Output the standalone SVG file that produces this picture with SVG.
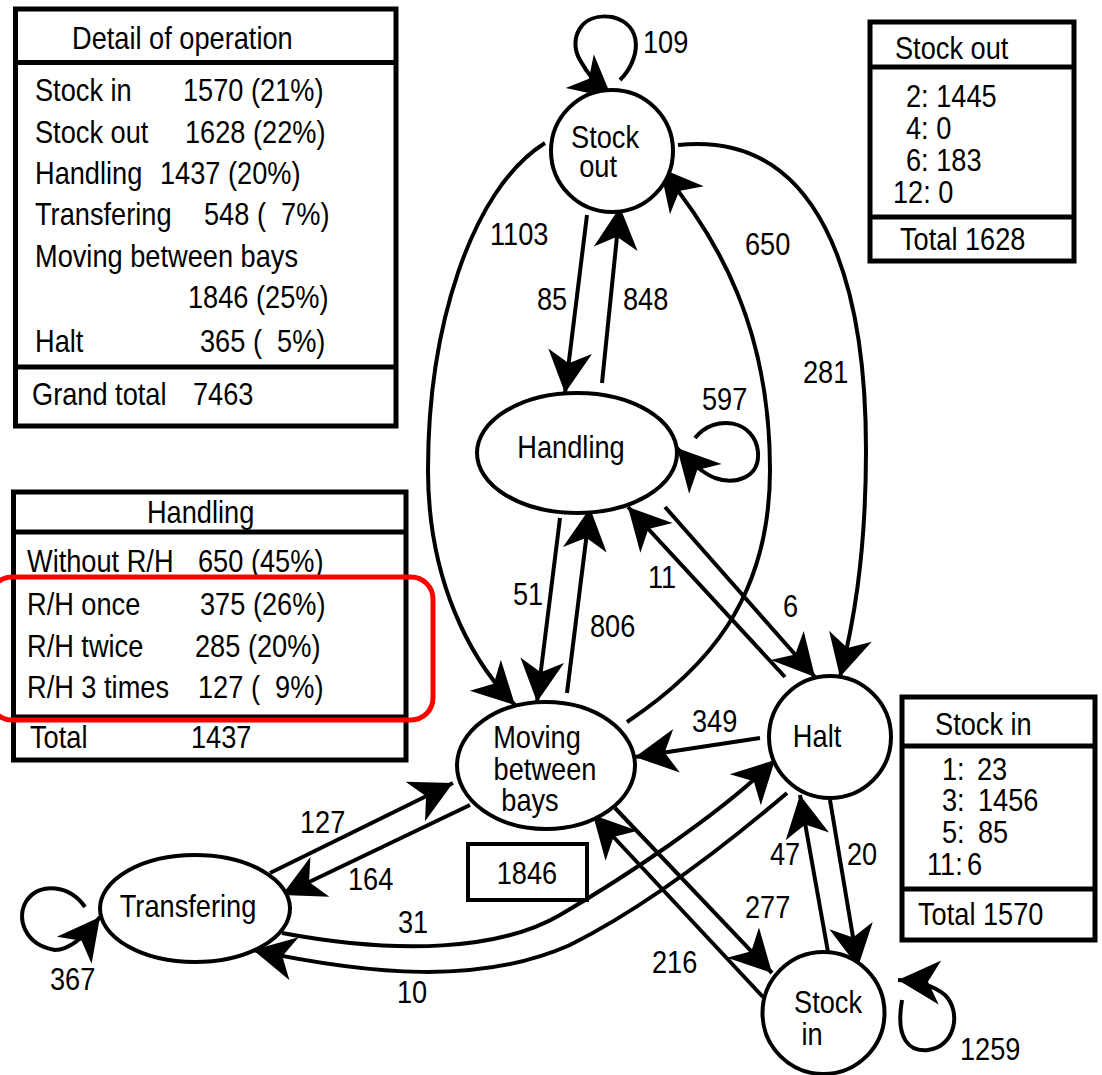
<svg xmlns="http://www.w3.org/2000/svg" width="1102" height="1075" viewBox="0 0 1102 1075">
<style>
text{font-family:"Liberation Sans",Arial,sans-serif;font-size:32px;fill:#000;transform:scaleX(0.85);transform-box:fill-box;transform-origin:0 50%}
text.mid{text-anchor:middle;transform-origin:50% 50%}
.node{fill:#fff;stroke:#000;stroke-width:4}
.box{fill:#fff;stroke:#000;stroke-width:5}
.div{stroke:#000;stroke-width:5}
.edge{fill:none;stroke:#000;stroke-width:4;marker-end:url(#ah)}
</style>
<defs>
<marker id="ah" markerUnits="userSpaceOnUse" markerWidth="48" markerHeight="50" viewBox="-45 -25 48 50" refX="0" refY="0" orient="auto">
<path d="M0,0 L-42,-22 L-30,0 L-42,22 Z" fill="#000"/>
</marker>
</defs>
<rect width="1102" height="1075" fill="#fff"/>

<g id="table-detail">
<rect class="box" x="15.5" y="9" width="380.5" height="417"/>
<line class="div" x1="15.5" y1="62.5" x2="396" y2="62.5"/>
<line class="div" x1="15.5" y1="367" x2="396" y2="367"/>
<text x="72" y="49">Detail of operation</text>
<text x="35" y="101">Stock in</text><text x="183" y="101">1570 (21%)</text>
<text x="35" y="143">Stock out</text><text x="185" y="143">1628 (22%)</text>
<text x="35" y="184">Handling</text><text x="160" y="184">1437 (20%)</text>
<text x="35" y="225">Transfering</text><text x="204" y="225" xml:space="preserve">548 (  7%)</text>
<text x="35" y="267">Moving between bays</text>
<text x="188" y="308">1846 (25%)</text>
<text x="35" y="352">Halt</text><text x="200" y="352" xml:space="preserve">365 (  5%)</text>
<text x="32" y="405">Grand total</text><text x="193" y="405">7463</text>
</g>

<g id="table-handling">
<rect class="box" x="13.5" y="492" width="392.5" height="268"/>
<line class="div" x1="13.5" y1="532" x2="406" y2="532"/>
<line class="div" x1="13.5" y1="717" x2="406" y2="717"/>
<text x="147" y="523">Handling</text>
<text x="27" y="572">Without R/H</text><text x="198" y="572">650 (45%)</text>
<text x="27" y="615">R/H once</text><text x="200" y="615">375 (26%)</text>
<text x="27" y="657">R/H twice</text><text x="195" y="657">285 (20%)</text>
<text x="27" y="698">R/H 3 times</text><text x="198" y="698" xml:space="preserve">127 (  9%)</text>
<text x="30" y="748">Total</text><text x="191" y="748">1437</text>
</g>

<g id="highlight">
<rect x="-10" y="577" width="443" height="143" rx="22" ry="22" fill="none" stroke="#ff0000" stroke-width="5"/>
</g>

<g id="table-stockout">
<rect class="box" x="870" y="22" width="204" height="239"/>
<line class="div" x1="870" y1="67" x2="1074" y2="67"/>
<line class="div" x1="870" y1="217" x2="1074" y2="217"/>
<text x="895" y="59">Stock out</text>
<text x="906" y="107">2: 1445</text>
<text x="906" y="139">4: 0</text>
<text x="906" y="171">6: 183</text>
<text x="893" y="203">12: 0</text>
<text x="900" y="250">Total 1628</text>
</g>

<g id="table-stockin">
<rect class="box" x="902" y="697" width="193" height="243"/>
<line class="div" x1="902" y1="746" x2="1095" y2="746"/>
<line class="div" x1="902" y1="889" x2="1095" y2="889"/>
<text x="935" y="735">Stock in</text>
<text x="942" y="780">1:</text><text x="977" y="780">23</text>
<text x="942" y="811">3:</text><text x="978" y="811">1456</text>
<text x="942" y="843">5:</text><text x="978" y="843">85</text>
<text x="927" y="875">11:</text><text x="967" y="875">6</text>
<text x="918" y="925">Total 1570</text>
</g>

<g id="connectors">
<path class="edge" d="M620,80 C640,60 645,25 612,17 C580,12 568,40 580,60 C588,75 600,88 612,98"/>
<path class="edge" d="M587,215 L565,393"/>
<path class="edge" d="M602,383 L620,207"/>
<path class="edge" d="M545,143 C470,190 428,330 428,470 C428,580 470,660 515,705"/>
<path class="edge" d="M627,722 C705,670 770,600 770,470 C770,330 720,240 660,168"/>
<path class="edge" d="M678,145 C820,130 866,280 866,450 C866,560 852,630 840,677"/>
<path class="edge" d="M695,438 C715,413 755,420 758,452 C760,478 735,485 715,478 C700,472 688,460 677,448"/>
<path class="edge" d="M560,518 L537,702"/>
<path class="edge" d="M567,693 L590,508"/>
<path class="edge" d="M785,677 L628,507"/>
<path class="edge" d="M665,507 L815,677"/>
<path class="edge" d="M760,738 L635,757"/>
<path class="edge" d="M85,907 C70,885 40,882 27,900 C15,918 25,945 55,950 C70,950 86,935 100,917"/>
<path class="edge" d="M470,805 L282,895"/>
<path class="edge" d="M270,873 L453,783"/>
<path class="edge" d="M282,933 C400,955 500,950 560,915 C620,880 720,815 775,760"/>
<path class="edge" d="M787,793 C720,850 640,910 570,945 C480,985 370,975 253,950"/>
<path class="edge" d="M615,808 L772,973"/>
<path class="edge" d="M763,997 L593,815"/>
<path class="edge" d="M828,952 L800,795"/>
<path class="edge" d="M830,800 L858,967"/>
<path class="edge" d="M902,1000 C895,1040 910,1052 928,1050 C955,1047 962,1012 945,995 C932,984 915,981 898,980"/>
<text x="643" y="53">109</text>
<text x="490" y="245">1103</text>
<text x="537" y="310">85</text>
<text x="623" y="310">848</text>
<text x="745" y="255">650</text>
<text x="803" y="383">281</text>
<text x="702" y="410">597</text>
<text x="513" y="605">51</text>
<text x="590" y="637">806</text>
<text x="648" y="588">11</text>
<text x="783" y="617">6</text>
<text x="692" y="732">349</text>
<text x="300" y="833">127</text>
<text x="348" y="890">164</text>
<text x="398" y="933">31</text>
<text x="397" y="1003">10</text>
<text x="50" y="990">367</text>
<text x="745" y="918">277</text>
<text x="652" y="973">216</text>
<text x="770" y="865">47</text>
<text x="847" y="865">20</text>
<text x="960" y="1060">1259</text>
</g>

<g id="node-stockout">
<circle class="node" cx="612" cy="151" r="61"/>
<text class="mid" x="605" y="148">Stock</text>
<text class="mid" x="598" y="177">out</text>
</g>
<g id="node-handling">
<ellipse class="node" cx="577" cy="453" rx="100" ry="60"/>
<text class="mid" x="571" y="458">Handling</text>
</g>
<g id="node-moving">
<ellipse class="node" cx="546" cy="765.5" rx="89" ry="63.5"/>
<text class="mid" x="537" y="748">Moving</text>
<text class="mid" x="545" y="780">between</text>
<text class="mid" x="530" y="811">bays</text>
</g>
<g id="node-halt">
<circle class="node" cx="830" cy="737" r="61"/>
<text class="mid" x="817" y="747">Halt</text>
</g>
<g id="node-stockin">
<circle class="node" cx="823.5" cy="1013" r="61"/>
<text class="mid" x="828" y="1013">Stock</text>
<text class="mid" x="812" y="1045">in</text>
</g>
<g id="node-transfering">
<ellipse class="node" cx="195" cy="908.5" rx="95" ry="53.5"/>
<text class="mid" x="188" y="917">Transfering</text>
</g>
<g id="node-total">
<rect x="468" y="844" width="119" height="56" fill="#fff" stroke="#000" stroke-width="4"/>
<text class="mid" x="527" y="884">1846</text>
</g>
</svg>
